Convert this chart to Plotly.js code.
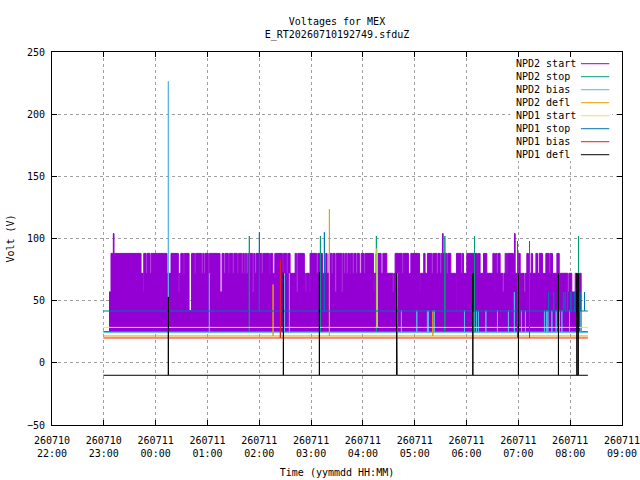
<!DOCTYPE html>
<html>
<head>
<meta charset="utf-8">
<script src="https://cdn.plot.ly/plotly-3.0.1.min.js"></script>
<style>
  body { margin: 0; background: #fff; }
  #graph { width: 640px; height: 480px; }
</style>
</head>
<body>
<div id="graph"></div>
<script>
// all times are minutes after 260710 22:00
var runStart = 59.5;
var runEnd = 620.5;

var seriesNames = ["NPD2 start", "NPD2 stop", "NPD2 bias", "NPD2 defl",
                   "NPD1 start", "NPD1 stop", "NPD1 bias", "NPD1 defl"];
var seriesColors = ["#9400d3", "#009e73", "#56b4e9", "#e69f00",
                    "#f0e442", "#0072b2", "#e51e10", "#000000"];

var tickTimes = ["2026-07-10 22:00", "2026-07-10 23:00", "2026-07-11 00:00", "2026-07-11 01:00",
                 "2026-07-11 02:00", "2026-07-11 03:00", "2026-07-11 04:00", "2026-07-11 05:00",
                 "2026-07-11 06:00", "2026-07-11 07:00", "2026-07-11 08:00", "2026-07-11 09:00"];
var tickLabels = ["260710<br>22:00", "260710<br>23:00", "260711<br>00:00", "260711<br>01:00",
                  "260711<br>02:00", "260711<br>03:00", "260711<br>04:00", "260711<br>05:00",
                  "260711<br>06:00", "260711<br>07:00", "260711<br>08:00", "260711<br>09:00"];

// NPD2 start flips quickly between a floor and a ceiling; the ceiling steps are listed
var npd2StartFloor = 25.5;
var npd2StartT = [66.0, 68.3, 71.0, 71.8,
  103.1, 105.4, 106.2, 108.9, 110.0, 113.5, 114.7, 133.2, 137.8,
  146.3, 147.3, 149.1, 152.1, 153.2, 158.7, 161.6, 165.3, 166.4,
  173.4, 174.6, 176.1, 177.2, 181.0, 182.2, 194.6, 196.9, 199.2, 200.4,
  204.2, 205.4, 209.3, 210.5, 214.6, 215.8, 219.7, 220.9, 222.7, 223.9,
  225.5, 226.7, 232.5, 233.6, 235.1, 236.3, 242.9, 244.1, 251.7, 252.9,
  255.6, 258.0, 266.8, 267.9, 271.9, 273.0, 275.7, 281.5, 283.4, 284.6,
  292.2, 293.4, 294.5, 298.0, 298.8, 306.6, 307.8, 313.1, 317.0,
  318.5, 320.8, 324.0, 325.1, 327.8, 329.0, 335.6, 336.7, 338.3, 339.4,
  341.3, 342.5, 344.4, 345.5, 348.3, 349.5, 352.1, 353.3, 355.9, 357.9,
  361.4, 362.5, 372.2, 373.0, 375.3, 381.1, 383.1, 387.7, 394.6, 395.7, 397.3,
  405.4, 406.5, 412.7, 415.5, 425.5, 426.6, 430.4, 432.0, 434.7,
  439.8, 441.0, 445.6, 446.8, 449.4, 450.6, 452.1, 452.9, 457.2, 458.3,
  461.8, 467.2, 468.3, 473.7, 474.9, 476.4, 480.3, 492.6, 493.8,
  495.7, 499.6, 503.5, 510.5, 512.3, 513.5, 515.1, 516.3,
  518.9, 522.0, 523.2, 524.7, 526.6, 527.3, 534.3, 535.5, 536.3, 539.8,
  542.1, 546.7, 547.9, 549.8, 551.7, 554.8, 556.3, 560.3, 562.2, 564.1,
  567.9, 571.8, 575.7, 576.8, 579.5, 584.6,
  587.3, 597.3, 598.5, 601.9, 605.8, 607.7, 608.9, 612.7];
var npd2StartTop = [57, 88, 104, 88,
  72, 57, 88, 72, 88, 72, 88, 72, 88,
  57, 72, 88, 72, 88, 42, 88, 72, 88,
  72, 88, 72, 88, 72, 88, 57, 88, 72, 88,
  72, 88, 72, 88, 72, 88, 72, 88, 72, 88,
  72, 88, 57, 88, 72, 88, 72, 88, 72, 88,
  72, 88, 72, 88, 72, 88, 72, 88, 57, 88,
  72, 57, 72, 57, 88, 72, 88, 72, 88,
  72, 88, 72, 88, 57, 88, 57, 88, 72, 88,
  72, 88, 72, 88, 72, 88, 72, 88, 72, 88,
  72, 88, 57, 72, 88, 72, 88, 72, 57, 72, 88,
  72, 88, 72, 88, 57, 72, 88, 72, 88,
  72, 88, 72, 88, 72, 88, 104, 88, 72, 88,
  72, 42, 88, 72, 88, 72, 88, 72, 88,
  72, 88, 72, 88, 57, 88, 72, 88,
  72, 57, 72, 88, 72, 88, 72, 104, 72, 88,
  72, 57, 72, 88, 72, 88, 72, 88, 72, 88,
  72, 88, 72, 88, 72, 88,
  72, 57, 72, 57, 72, 57, 72, 25.5];

// the other channels sit on a flat level with single-sample spikes
var npd2StopBase = 25.2;
var npd2StopT = [228.5, 310.8, 375.6, 454.9, 489.2, 609.6];
var npd2StopV = [102, 102, 102, 102, 102, 102];

var npd2BiasBase = 24.3;
var npd2BiasT = [134.7, 182.2, 269.1, 274.9, 400.0, 404.6, 422.4, 434.7, 435.9, 442.8,
  477.6, 488.4, 491.5, 493.8, 502.4, 515.8, 528.5, 535.4, 543.6, 548.2,
  570.2, 572.5, 574.2, 578.8, 583.8, 587.6, 590.4, 599.2, 609.6, 612.4];
var npd2BiasV = [226.5, 72, 72, 72, 72, 42, 42, 42, 42, 42,
  42, 42, 42, 42, 42, 42, 42, 57, 42, 42,
  42, 42, 42, 42, 42, 42, 42, 42, 42, 42];

var npd2DeflBase = 21.6;
var npd2DeflT = [256.0, 256.7, 321.2, 441.0];
var npd2DeflV = [63, 63, 123.5, 42];

var npd1StartBase = 28.5;
var npd1StartT = [376.4];
var npd1StartV = [92];

var npd1StopBase = 41.7;
var npd1StopT = [240.1, 315.4, 574.9, 580.9, 592.2, 594.2, 597.0, 600.8, 605.0, 611.6, 616.6];
var npd1StopV = [105, 105, 57, 57, 57, 57, 57, 57, 57, 57, 57];

var npd1BiasBase = 20;
var npd1BiasT = [264.4, 539.0, 552.9];
var npd1BiasV = [83, 98, 98];

var npd1DeflBase = -10;
var npd1DeflT = [134.7, 267.9, 309.6, 399.0, 399.6, 487.3, 540.1, 586.4, 607.8, 609.3];
var npd1DeflV = [53, 72.5, 73, 72, 72, 72, 72, 72, 72, 72];

var monoFont = { family: "DejaVu Sans Mono, Liberation Mono, monospace", size: 10, color: "#000" };

function at(m) {
  var d = new Date(Date.UTC(2026, 6, 10, 22, 0, 0) + Math.round(m * 60000));
  return d.toISOString().slice(0, 19).replace("T", " ");
}

function spikeSeries(idx, base, ts, vs) {
  var x = [at(runStart)], y = [base];
  ts.forEach(function (t, i) {
    x.push(at(t), at(t), at(t));
    y.push(base, vs[i], base);
  });
  x.push(at(runEnd));
  y.push(base);
  return {
    x: x, y: y, type: "scatter", mode: "lines", name: seriesNames[idx],
    line: { color: seriesColors[idx], width: 1 }, showlegend: false, hoverinfo: "skip"
  };
}

var data = [
  {
    x: [at(npd2StartT[0]), at(npd2StartT[npd2StartT.length - 1])],
    y: [npd2StartFloor, npd2StartFloor],
    type: "scatter", mode: "lines", name: seriesNames[0],
    line: { color: seriesColors[0], width: 1 }, showlegend: false, hoverinfo: "skip"
  },
  {
    x: npd2StartT.map(at), y: npd2StartTop,
    type: "scatter", mode: "lines", name: seriesNames[0],
    line: { color: seriesColors[0], width: 1, shape: "hv" },
    fill: "tonexty", fillcolor: seriesColors[0], showlegend: false, hoverinfo: "skip"
  },
  spikeSeries(1, npd2StopBase, npd2StopT, npd2StopV),
  spikeSeries(2, npd2BiasBase, npd2BiasT, npd2BiasV),
  spikeSeries(3, npd2DeflBase, npd2DeflT, npd2DeflV),
  spikeSeries(4, npd1StartBase, npd1StartT, npd1StartV),
  spikeSeries(5, npd1StopBase, npd1StopT, npd1StopV),
  spikeSeries(6, npd1BiasBase, npd1BiasT, npd1BiasV),
  spikeSeries(7, npd1DeflBase, npd1DeflT, npd1DeflV)
];

// gnuplot style key: opaque box, left aligned label, sample line to its right
var keyTop = 0.9686, keyStep = 0.03485;
var annotations = [];
var shapes = [{
  type: "rect", xref: "paper", yref: "paper", x0: 0.8035, x1: 0.9825, y0: 0.7078, y1: 0.9866,
  fillcolor: "#fff", line: { width: 0 }, layer: "above"
}];
seriesNames.forEach(function (name, i) {
  var yy = keyTop - i * keyStep;
  annotations.push({
    xref: "paper", yref: "paper", x: 0.8105, y: yy, xanchor: "left", yanchor: "middle",
    text: name, showarrow: false, font: monoFont
  });
  shapes.push({
    type: "line", xref: "paper", yref: "paper", x0: 0.928, x1: 0.9777, y0: yy, y1: yy,
    line: { color: seriesColors[i], width: 1 }
  });
});

var layout = {
  width: 640, height: 480,
  margin: { l: 52, r: 18, t: 52, b: 55 },
  paper_bgcolor: "#fff", plot_bgcolor: "#fff",
  font: monoFont,
  showlegend: false,
  title: {
    text: "Voltages for MEX<br>E_RT20260710192749.sfduZ",
    font: monoFont, xref: "paper", x: 0.5, xanchor: "center",
    yref: "container", y: 0.948, yanchor: "top"
  },
  xaxis: {
    type: "date",
    range: [tickTimes[0], tickTimes[tickTimes.length - 1]],
    tickvals: tickTimes, ticktext: tickLabels,
    ticks: "inside", ticklen: 5, tickcolor: "#000",
    showline: true, linecolor: "#000", linewidth: 1, mirror: "allticks",
    showgrid: true, gridcolor: "#a0a0a0", griddash: "dot", gridwidth: 1,
    zeroline: false, tickfont: monoFont, ticklabelstandoff: 6,
    ticklabeloverflow: "allow",
    title: { text: "Time (yymmdd HH:MM)", font: monoFont, standoff: 10 }
  },
  yaxis: {
    range: [-50, 250], dtick: 50, tick0: 0,
    ticks: "inside", ticklen: 5, tickcolor: "#000",
    showline: true, linecolor: "#000", linewidth: 1, mirror: "allticks",
    showgrid: true, gridcolor: "#a0a0a0", griddash: "dot", gridwidth: 1,
    zeroline: false, tickfont: monoFont, ticklabelstandoff: 4,
    title: { text: "Volt (V)", font: monoFont, standoff: 10 }
  },
  annotations: annotations,
  shapes: shapes
};

Plotly.newPlot("graph", data, layout, { displayModeBar: false, staticPlot: true });
</script>
</body>
</html>
